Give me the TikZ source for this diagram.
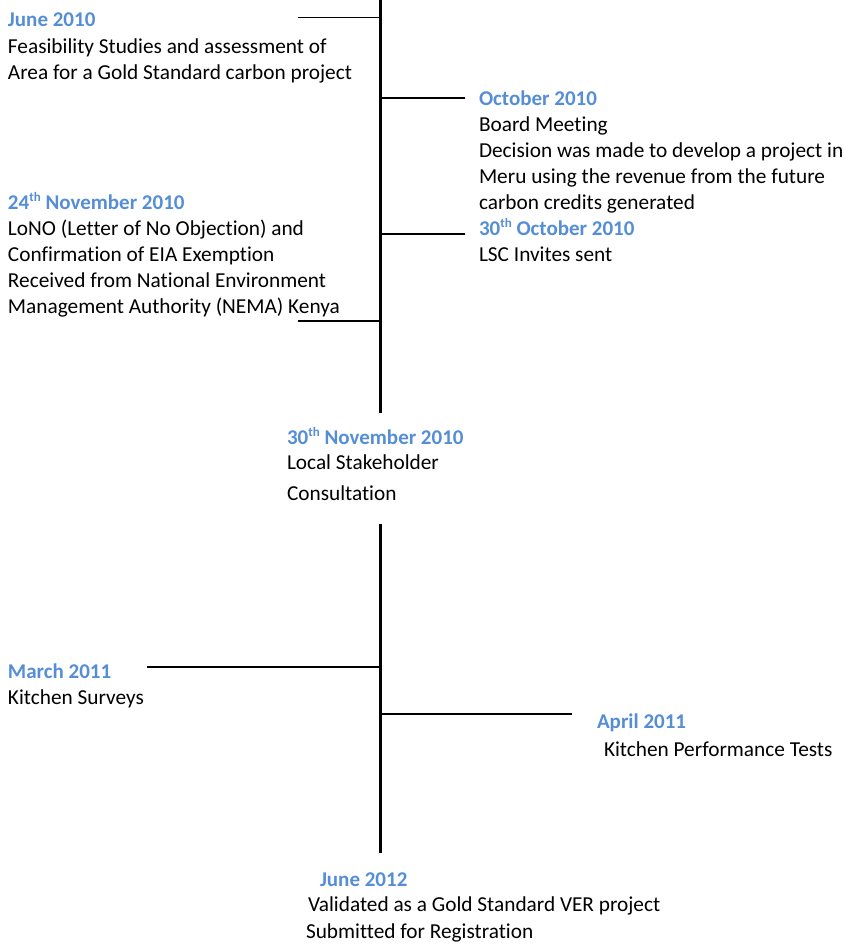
\documentclass[tikz,border=0pt]{standalone}
\usepackage{fontspec}
\setmainfont[Ligatures=CommonOff]{Carlito}
\definecolor{datecol}{RGB}{85,142,213}
\newcommand{\thsup}{\raisebox{0.75ex}{\fontsize{13}{13}\selectfont\bfseries th}}
\tikzset{
  every node/.style={inner sep=0pt, outer sep=0pt, anchor=base west, font=\fontsize{21.3}{26}\selectfont, align=left},
  datelbl/.style={text=datecol, font=\fontsize{21}{26}\selectfont\bfseries},
  axisline/.style={line width=3pt},
  tick/.style={line width=1.5pt}
}
\begin{document}
\begin{tikzpicture}[x=1pt,y=-1pt]
\useasboundingbox (0,0) rectangle (845,945);
% axis
\coordinate (a0) at (380,0);
\coordinate (a1) at (380,413);
\coordinate (b0) at (380,524);
\coordinate (b1) at (380,853);
\draw[axisline] (a0) -- (a1);
\draw[axisline] (b0) -- (b1);
% tick coordinates
\coordinate (t1a) at (380,17.5); \coordinate (t1b) at (298,17.5);
\coordinate (t2a) at (380,98); \coordinate (t2b) at (465,98);
\coordinate (t3a) at (380,234); \coordinate (t3b) at (465,234);
\coordinate (t4a) at (380,321); \coordinate (t4b) at (298,321);
\coordinate (t5a) at (380,667); \coordinate (t5b) at (147,667);
\coordinate (t6a) at (380,714); \coordinate (t6b) at (572,714);
\draw[tick] (t1a) -- (t1b);
\draw[tick] (t2a) -- (t2b);
\draw[tick] (t3a) -- (t3b);
\draw[tick] (t4a) -- (t4b);
\draw[tick] (t5a) -- (t5b);
\draw[tick] (t6a) -- (t6b);
% events (anchor = baseline of last line)
\node[datelbl] (d1) at (8,26) {June 2010};
\node (e1) at (8,79) {Feasibility Studies and assessment of\\Area for a Gold Standard carbon project};
\node[datelbl] (d2) at (479,105) {October 2010};
\node (e2) at (479,209) {Board Meeting\\Decision was made to develop a project in\\Meru using the revenue from the future\\carbon credits generated};
\node[datelbl] (d3) at (479,235) {30\thsup{} October 2010};
\node (e3) at (479,261) {LSC Invites sent};
\node[datelbl] (d4) at (8,209) {24\thsup{} November 2010};
\node (e4) at (8,313) {LoNO (Letter of No Objection) and\\Confirmation of EIA Exemption\\Received from National Environment\\Management Authority (NEMA) Kenya};
\node[datelbl] (d5) at (287,444) {30\thsup{} November 2010};
\node (e5) at (287,469) {Local Stakeholder};
\node (e5b) at (287,500) {Consultation};
\node[datelbl] (d6) at (8,678) {March 2011};
\node (e6) at (8,704) {Kitchen Surveys};
\node[datelbl] (d7) at (597,728) {April 2011};
\node (e7) at (604,756) {Kitchen Performance Tests};
\node[datelbl] (d8) at (320,886) {June 2012};
\node (e8) at (308,911) {Validated as a Gold Standard VER project};
\node (e8b) at (306,938) {Submitted for Registration};
\end{tikzpicture}
\end{document}
